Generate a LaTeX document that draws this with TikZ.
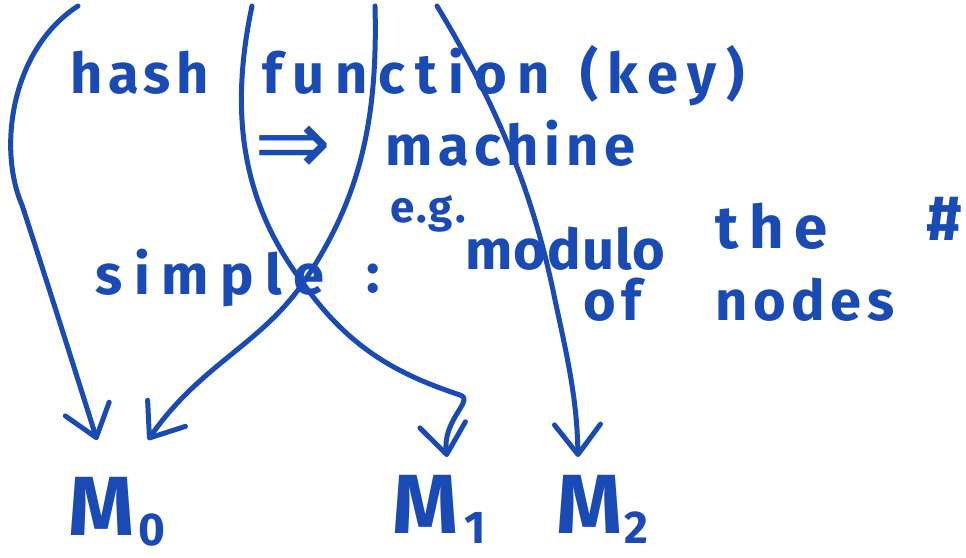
\documentclass[tikz,border=0pt]{standalone}
\usepackage{fontspec}
\setmainfont{Fira Sans}
\newfontfamily\symfont{DejaVu Sans}
\usetikzlibrary{arrows.meta}
\definecolor{ink}{HTML}{1A4BB4}
\newcommand{\lowsub}[1]{\raisebox{-10pt}{\smash{\fontsize{46}{46}\selectfont #1}}}
\begin{document}
\begin{tikzpicture}[x=1pt,y=-1pt,
  wire/.style={draw=ink, line width=5pt, line cap=round, line join=round},
  tipped/.style={wire, -{Straight Barb[length=30pt,width=46pt,round]}},
  word/.style={text=ink, inner sep=0pt, anchor=base west, font=\fontsize{56}{60}\selectfont\bfseries\addfontfeatures{LetterSpace=#1}},
  word/.default=10,
  small/.style={text=ink, inner sep=0pt, anchor=base west, font=\fontsize{44}{48}\selectfont\bfseries\addfontfeatures{LetterSpace=5}},
  mlabel/.style={text=ink, inner sep=0pt, anchor=base west, font=\fontsize{84}{90}\selectfont\bfseries}]
\useasboundingbox (0,0) rectangle (966,557);
% texts
\node[word] (hash) at (70,93) {hash};
\node[word=19] (function) at (262,93) {function};
\node[word=17] (key) at (580,93) {(key)};
\node[text=ink, inner sep=0pt, anchor=west, font=\symfont\fontsize{92}{92}\selectfont] (implies) at (254,150) {⇒};
\node[word] (machine) at (385,165) {machine};
\node[small] (eg) at (390,222) {e.g.};
\node[word=21] (simple) at (95,294) {simple};
\node[word] (colon) at (366,292) {:};
\node[word=2] (modulo) at (465,269) {modulo};
\node[word=18, font=\fontsize{60}{64}\selectfont\bfseries\addfontfeatures{LetterSpace=18}] (the) at (715,248) {the};
\node[word, font=\fontsize{64}{68}\selectfont\bfseries] (hashsign) at (926,240) {\#};
\node[word] (of) at (583,320) {of};
\node[word] (nodes) at (715,320) {nodes};
\node[mlabel] (m0) at (68,535) {M\hspace{4pt}\lowsub{0}};
\node[mlabel] (m1) at (392,533) {M\hspace{6pt}\lowsub{1}};
\node[mlabel] (m2) at (556,533) {M\hspace{2pt}\lowsub{2}};
% free ends
\coordinate (s1) at (78,6);
\coordinate (s2) at (252,6);
\coordinate (s3) at (375,6);
\coordinate (s4) at (437,6);
\coordinate (x) at (303,283);
\coordinate (t0a) at (97,440);
\coordinate (t0b) at (148,440);
\coordinate (t1) at (447,457);
\coordinate (t2) at (578,457);
% connectors
\draw[tipped] (s1) .. controls (10,50) and (-2,150) .. (22,205) .. controls (40,260) and (75,370) .. (t0a);
\draw[tipped] (s3) .. controls (378,120) and (360,200) .. (x) .. controls (260,345) and (200,365) .. (t0b);
\draw[tipped] (s2) .. controls (230,110) and (240,200) .. (x) .. controls (350,350) and (400,375) .. (460,395) .. controls (475,400) and (442,420) .. (t1);
\draw[tipped] (s4) .. controls (500,110) and (535,200) .. (555,300) .. controls (568,360) and (577,400) .. (t2);
\end{tikzpicture}
\end{document}
